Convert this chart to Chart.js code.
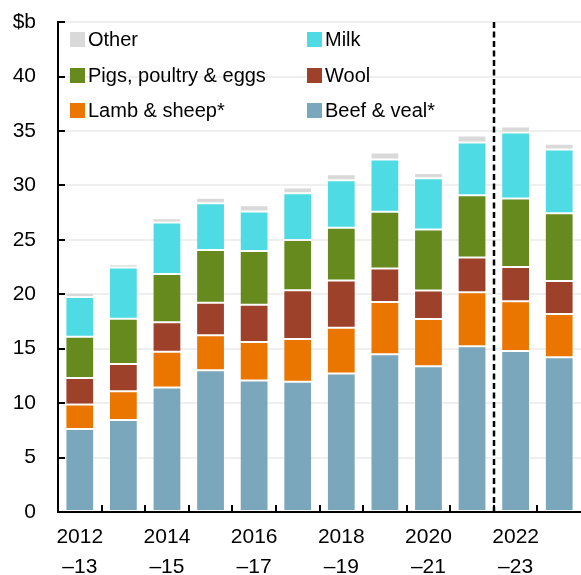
<!DOCTYPE html>
<html>
<head>
<meta charset="utf-8">
<script src="https://cdn.jsdelivr.net/npm/chart.js@4/dist/chart.umd.min.js"></script>
<style>
  html, body { margin: 0; padding: 0; background: #fff; }
  #wrap { width: 581px; height: 575px; }
</style>
</head>
<body>
<div id="wrap"><canvas id="chart"></canvas></div>
<script>
// financial years
const categories = ['2012–13', '2013–14', '2014–15', '2015–16', '2016–17', '2017–18',
                    '2018–19', '2019–20', '2020–21', '2021–22', '2022–23', '2023–24'];

// $b (bottom of stack first)
const beefVeal   = [7.63, 8.45, 11.44, 13.03, 12.08, 11.96, 12.72, 14.49, 13.39, 15.22, 14.79, 14.22];
const lambSheep  = [2.25, 2.65, 3.29, 3.20, 3.54, 3.93, 4.21, 4.81, 4.33, 4.97, 4.58, 3.96];
const wool       = [2.44, 2.50, 2.69, 2.98, 3.41, 4.48, 4.33, 3.06, 2.63, 3.18, 3.14, 3.05];
const pigsPoultryEggs = [3.78, 4.15, 4.45, 4.85, 4.94, 4.61, 4.85, 5.22, 5.61, 5.72, 6.28, 6.22];
const milk       = [3.66, 4.70, 4.73, 4.30, 3.63, 4.30, 4.36, 4.81, 4.69, 4.85, 6.07, 5.85];
const other      = [0.37, 0.30, 0.39, 0.50, 0.58, 0.52, 0.55, 0.64, 0.49, 0.64, 0.55, 0.53];

const yMax = 45;
const yStep = 5;
const forecastFrom = 10; // dashed line before 2022–23

const FONT = 'Liberation Sans, Arial, sans-serif';

function ds(label, data, color) {
    return {
        label: label,
        data: data,
        backgroundColor: color,
        borderColor: 'rgba(255,255,255,0.3)',
        borderWidth: 1,
        borderSkipped: false
    };
}

// legend laid out in two columns, drawn inside the plot
const legendRows = [
    ['Other', 'Milk'],
    ['Pigs, poultry & eggs', 'Wool'],
    ['Lamb & sheep*', 'Beef & veal*']
];

const overlay = {
    id: 'overlay',
    afterDatasetsDraw(chart) {
        const { ctx, chartArea: a, scales: { x, y } } = chart;
        ctx.save();

        // inward tick marks
        ctx.strokeStyle = '#000';
        ctx.lineWidth = 2;
        for (let v = 0; v <= yMax; v += yStep) {
            const py = Math.round(y.getPixelForValue(v));
            ctx.beginPath();
            ctx.moveTo(a.left, py);
            ctx.lineTo(a.left + 7, py);
            ctx.stroke();
        }
        for (let i = 1; i < categories.length; i++) {
            const px = Math.round((x.getPixelForValue(i - 1) + x.getPixelForValue(i)) / 2);
            ctx.beginPath();
            ctx.moveTo(px, a.bottom);
            ctx.lineTo(px, a.bottom - 7);
            ctx.stroke();
        }

        // dashed divider
        const dx = Math.round((x.getPixelForValue(forecastFrom - 1) + x.getPixelForValue(forecastFrom)) / 2);
        ctx.setLineDash([6, 3.5]);
        ctx.lineWidth = 2.5;
        ctx.beginPath();
        ctx.moveTo(dx, a.top);
        ctx.lineTo(dx, a.bottom);
        ctx.stroke();
        ctx.setLineDash([]);

        // legend
        const colours = {};
        chart.data.datasets.forEach(d => { colours[d.label] = d.backgroundColor; });
        const colX = [70, 307];
        const rowY = [39, 75, 110];
        ctx.font = '20px ' + FONT;
        ctx.textBaseline = 'middle';
        ctx.textAlign = 'left';
        legendRows.forEach((row, r) => {
            row.forEach((label, c) => {
                ctx.fillStyle = colours[label];
                ctx.fillRect(colX[c], rowY[r] - 7, 15, 15);
                ctx.fillStyle = '#000';
                ctx.fillText(label, colX[c] + 18, rowY[r] + 1);
            });
        });

        ctx.restore();
    }
};

new Chart(document.getElementById('chart'), {
    type: 'bar',
    data: {
        labels: categories,
        datasets: [
            ds('Beef & veal*', beefVeal, '#7BA7BC'),
            ds('Lamb & sheep*', lambSheep, '#EA7600'),
            ds('Wool', wool, '#9E412B'),
            ds('Pigs, poultry & eggs', pigsPoultryEggs, '#678A1E'),
            ds('Milk', milk, '#4EDBE3'),
            ds('Other', other, '#D9D9D9')
        ]
    },
    options: {
        responsive: true,
        maintainAspectRatio: false,
        animation: false,
        layout: { padding: { top: 0, right: 0, left: 0, bottom: 0 } },
        datasets: {
            bar: { categoryPercentage: 1, barPercentage: 0.66 }
        },
        plugins: {
            legend: { display: false },
            tooltip: { enabled: false }
        },
        scales: {
            x: {
                stacked: true,
                grid: { display: false, drawTicks: false },
                border: { display: true, color: '#000', width: 2 },
                ticks: {
                    autoSkip: false,
                    maxRotation: 0,
                    padding: 10,
                    color: '#000',
                    font: { family: FONT, size: 21, lineHeight: '30px' },
                    callback: function(val, i) {
                        if (i % 2 !== 0) return '';
                        const parts = categories[i].split('–');
                        return [parts[0], '–' + parts[1]];
                    }
                },
                afterFit: function(scale) { scale.height = 63; }
            },
            y: {
                stacked: true,
                min: 0,
                max: yMax,
                grid: { color: '#EFEFEF', lineWidth: 2, drawTicks: false },
                border: { display: true, color: '#000', width: 2 },
                ticks: {
                    stepSize: yStep,
                    padding: 22,
                    color: '#000',
                    // tiny line height keeps the top label from padding the plot down
                    font: { family: FONT, size: 21, lineHeight: 0.01 },
                    callback: v => v === yMax ? '$b' : v
                },
                afterFit: function(scale) { scale.width = 58; }
            }
        }
    },
    plugins: [overlay]
});
</script>
</body>
</html>
